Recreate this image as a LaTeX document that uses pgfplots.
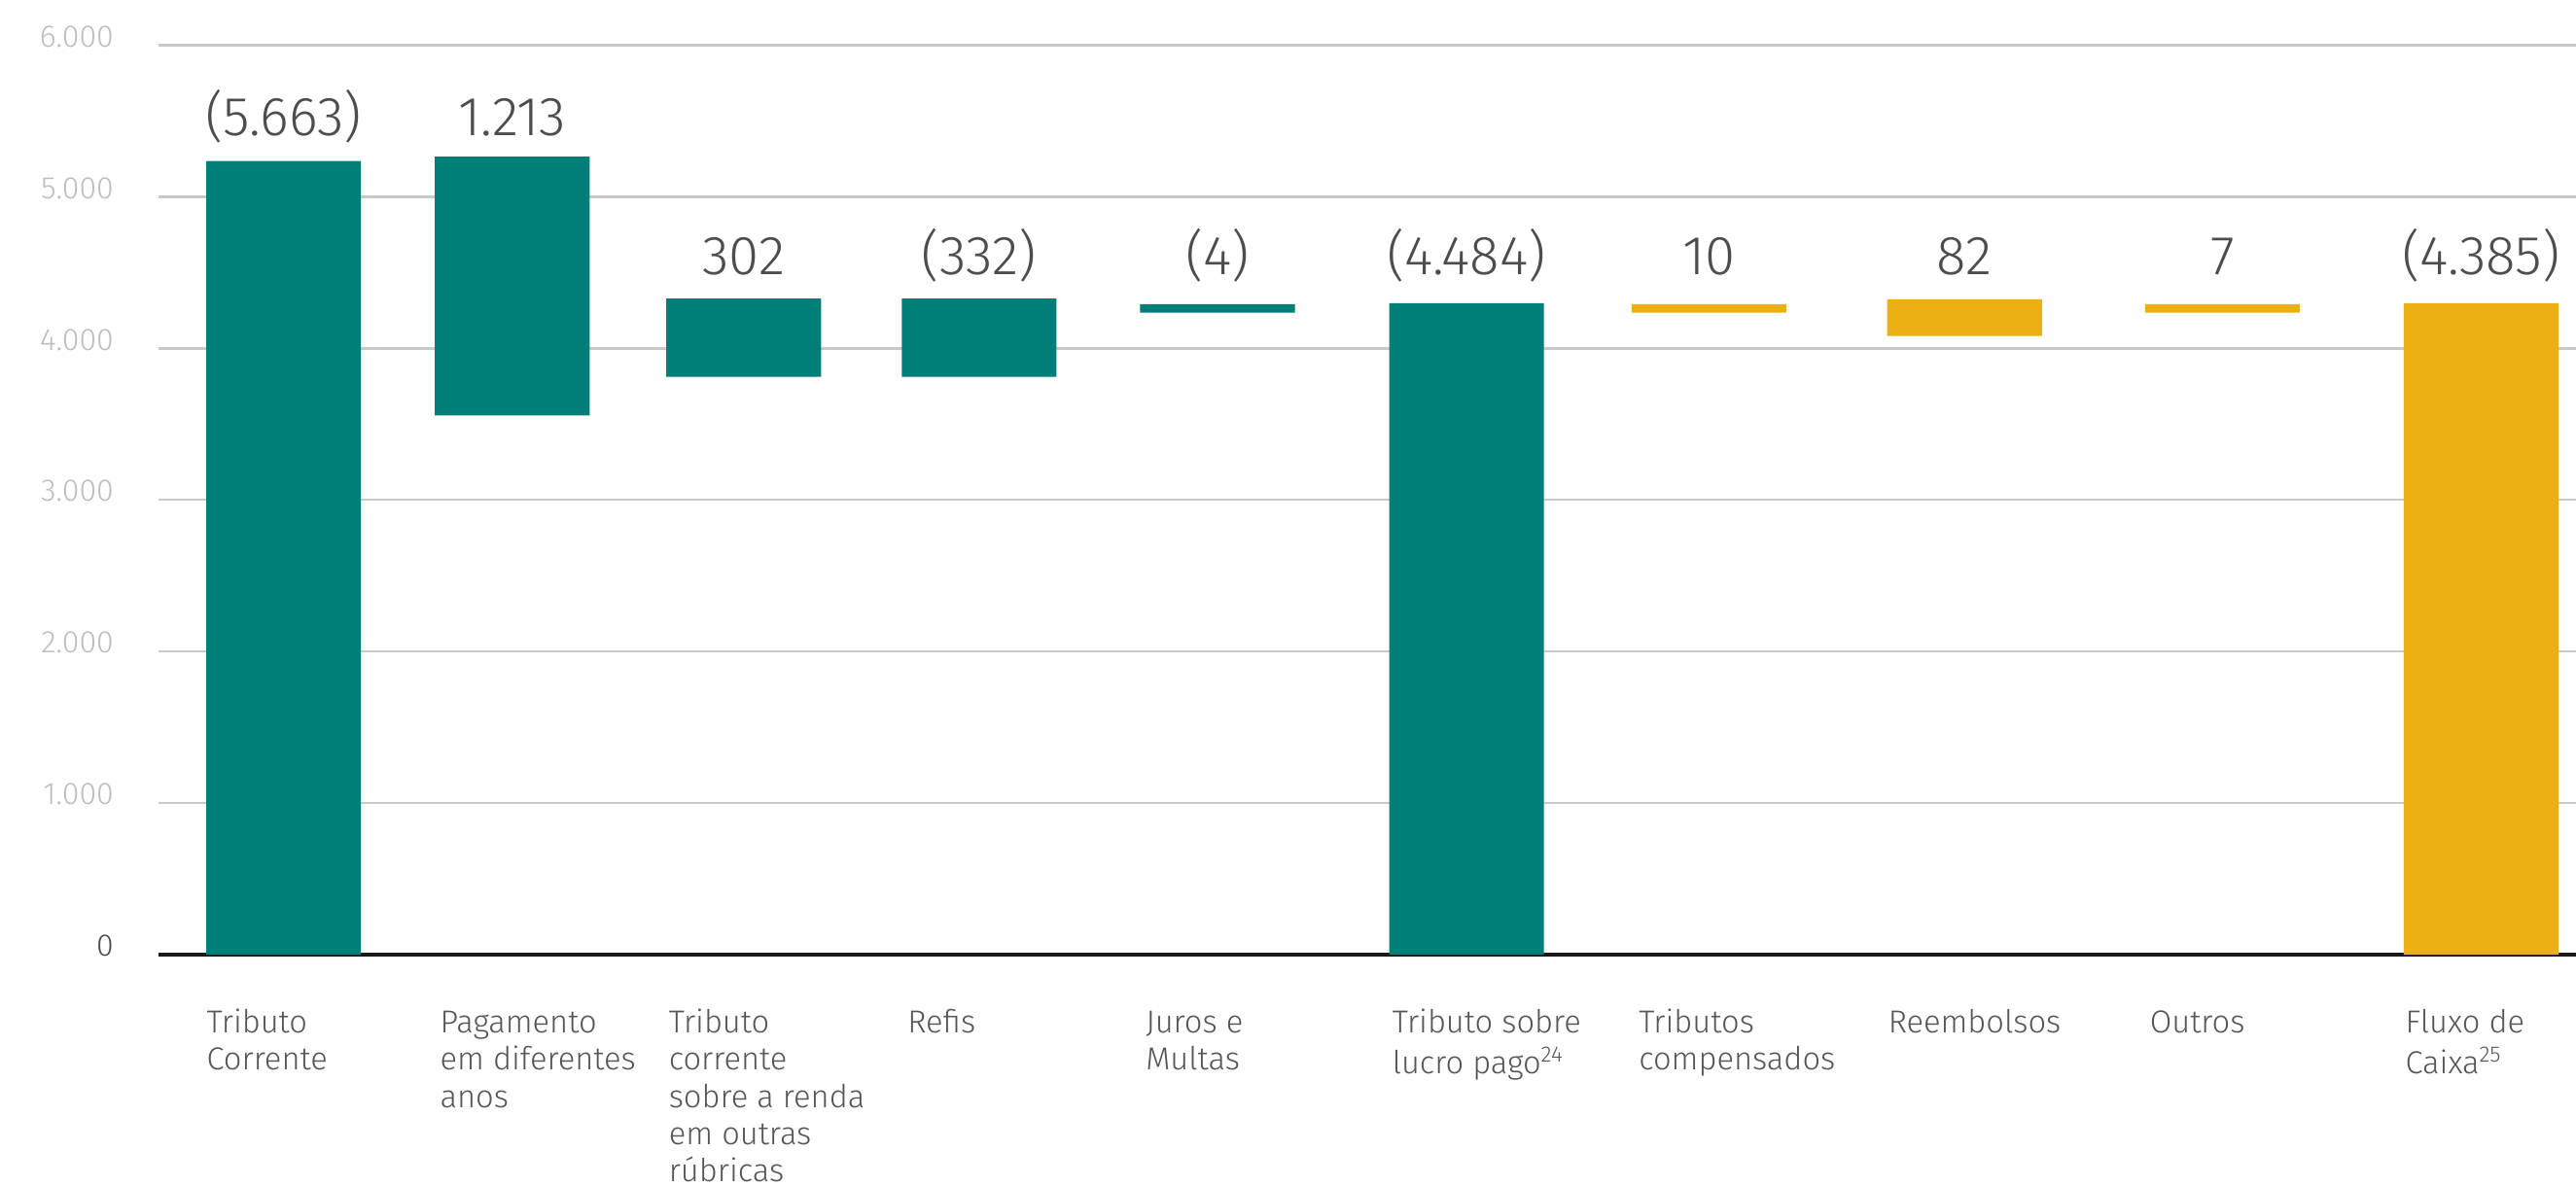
\documentclass[border=0pt]{standalone}
\usepackage{fontspec}
\setmainfont{Fira Sans}[UprightFont=* Light]
\usepackage{pgfplots}
\pgfplotsset{compat=1.18}
\usepackage{pgfplotstable}

\definecolor{tealbar}{HTML}{007E78}
\definecolor{goldbar}{HTML}{ECB014}
\definecolor{gridgray}{HTML}{C8C8C8}
\definecolor{ticktxt}{HTML}{BDBDBD}
\definecolor{valtxt}{HTML}{4D4D4D}
\definecolor{cattxt}{HTML}{555555}

% waterfall: invisible base + visible segment (teal or gold)
\pgfplotstableread{
x      base  teal  gold
172.6  0     5236  0
311.7  3557  1708  0
452.6  3813  516   0
595.9  3813  516   0
740.9  4235  56    0
892.5  0     4298  0
1040.0 4235  0     56
1195.6 4081  0     242
1352.5 4235  0     56
1510.0 0     0     4298
}\bars

% value labels, placed at their baselines
\pgfplotstableread[col sep=comma]{
x,y,lab
172.6,5403,(5.663)
311.7,5403,1.213
452.6,4485,302
595.9,4485,(332)
740.9,4485,(4)
892.5,4485,(4.484)
1040.0,4485,10
1195.6,4485,82
1352.5,4485,7
1510.0,4485,(4.385)
}\labels

\pgfplotsset{
  common/.style={
    x=0.02cm, y=0.0018484cm,
    xmin=96.5, xmax=1568, ymin=0, ymax=6000,
    at={(0,0)}, anchor=south west,
  },
}

\begin{document}
\begin{tikzpicture}
\begin{axis}[
  common,
  ybar stacked,
  bar width=94.2,
  axis x line*=bottom,
  axis y line*=left,
  y axis line style={draw=none},
  x axis line style={-, draw=black!90, line width=1.1pt},
  major tick length=0pt,
  ymajorgrids,
  major grid style={draw=gridgray, line width=0.8pt},
  ytick={0,1000,2000,3000,4000,5000,6000},
  yticklabels={\textcolor{valtxt}{0},1.000,2.000,3.000,4.000,5.000,6.000},
  yticklabel style={anchor=base east, inner sep=0pt, xshift=-0.54cm, yshift=-0.02cm,
    text=ticktxt, font=\fontsize{10.8}{12}\selectfont},
  xtick={125.5,267.5,406.7,552,697,847,997,1148.8,1308,1463.5},
  xticklabels={
    {\strut Tributo\\Corrente},
    {\strut Pagamento\\em diferentes\\anos},
    {\strut Tributo\\corrente\\sobre a renda\\em outras\\rúbricas},
    {\strut Refis},
    {\strut Juros e\\Multas},
    {\strut Tributo sobre\\lucro pago\textsuperscript{24}},
    {\strut Tributos\\compensados},
    {\strut Reembolsos},
    {\strut Outros},
    {\strut Fluxo de\\Caixa\textsuperscript{25}}},
  xticklabel style={anchor=north west, align=left, inner sep=0pt, yshift=-0.63cm,
    text=cattxt, font=\fontsize{11}{12.9}\selectfont},
]
\addplot[draw=none, fill=none] table[x=x, y=base] {\bars};
\addplot[draw=none, fill=tealbar] table[x=x, y=teal] {\bars};
\addplot[draw=none, fill=goldbar] table[x=x, y=gold] {\bars};
\end{axis}

\begin{axis}[
  common,
  hide axis,
  clip=false,
]
\addplot[draw=none, mark=none, nodes near coords, point meta=explicit symbolic,
  every node near coord/.append style={anchor=base, inner sep=0pt,
    text=valtxt, font=\fontsize{19}{22}\selectfont}]
  table[x=x, y=y, meta=lab] {\labels};
\end{axis}

\pgfresetboundingbox
\path (-1.93,-2.814) rectangle (29.43,11.626);
\end{tikzpicture}
\end{document}
